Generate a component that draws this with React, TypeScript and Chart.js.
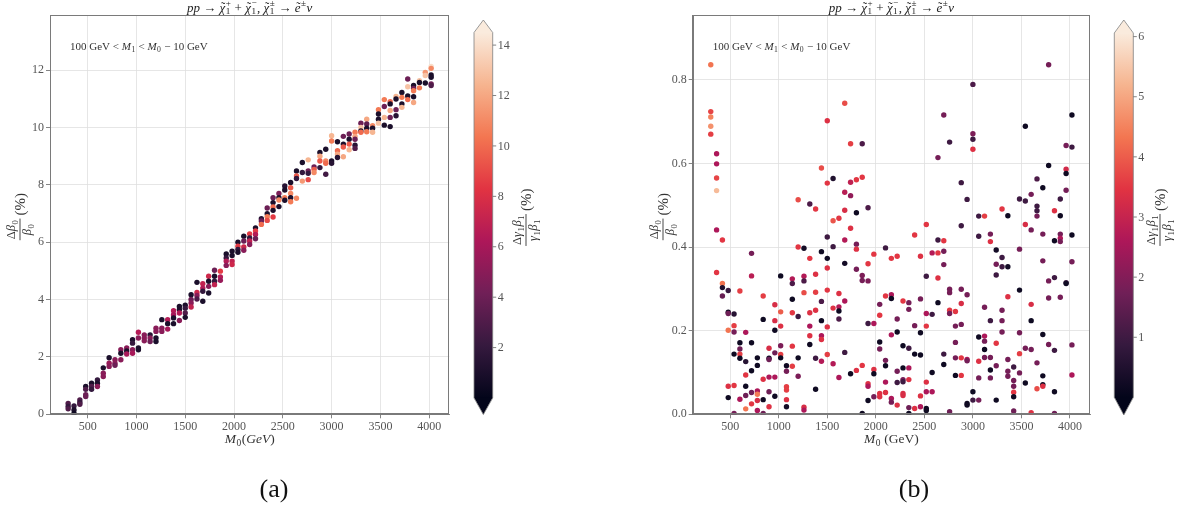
import React, { useEffect, useRef } from 'react';
import { Chart, registerables } from 'chart.js';

Chart.register(...registerables);

// ---------- data ----------
const massGrid = [300, 360, 420, 480, 540, 600, 660, 720, 780, 840, 900, 960, 1020, 1080, 1140, 1200, 1260, 1320, 1380, 1440, 1500, 1560, 1620, 1680, 1740, 1800, 1860, 1920, 1980, 2040, 2100, 2160, 2220, 2280, 2340, 2400, 2460, 2520, 2580, 2640, 2700, 2760, 2820, 2880, 2940, 3000, 3060, 3120, 3180, 3240, 3300, 3360, 3420, 3480, 3540, 3600, 3660, 3720, 3780, 3840, 3900, 3960, 4020];

const xTicks = [500, 1000, 1500, 2000, 2500, 3000, 3500, 4000];
const leftYTicks = [0, 2, 4, 6, 8, 10, 12];
const rightYTicks = [0, 0.2, 0.4, 0.6, 0.8];
const leftCbarTicks = [2, 4, 6, 8, 10, 12, 14];
const rightCbarTicks = [1, 2, 3, 4, 5, 6];

// (a) Δβ0/β0 (%) per mass column
const leftBeta: number[][] = [
  [0.38, 0.27, 0.19], [0.29, 0.15, 0.03], [0.5, 0.41, 0.35], [0.97, 0.87, 0.68, 0.62], [1.08, 0.97, 0.87],
  [1.2, 1.08, 0.97], [1.62, 1.43, 1.32], [1.97, 1.78, 1.67], [1.9, 1.78, 1.71], [2.25, 2.13, 1.9],
  [2.31, 2.21, 2.1], [2.6, 2.48, 2.25, 2.13], [2.86, 2.66, 2.31, 2.25], [2.77, 2.66, 2.56], [2.77, 2.66, 2.54],
  [3.0, 2.89, 2.66, 2.54], [3.3, 3.0, 2.89], [3.3, 3.16, 2.97], [3.61, 3.47, 3.36, 3.16], [3.76, 3.65, 3.53, 3.27],
  [3.8, 3.7, 3.53, 3.38], [4.17, 4.0, 3.88, 3.74], [4.6, 4.25, 4.14, 4.02], [4.55, 4.4, 4.29, 3.94], [4.81, 4.64, 4.46, 4.23],
  [5.02, 4.81, 4.64, 4.52], [4.99, 4.79, 4.67], [5.59, 5.45, 5.34, 5.19], [5.69, 5.54, 5.34, 5.22], [6.0, 5.86, 5.75, 5.65],
  [6.21, 6.04, 5.83, 5.72], [6.29, 6.15, 6.04, 5.92], [6.5, 6.39, 6.27, 6.12], [6.82, 6.74, 6.62], [7.19, 6.99, 6.89, 6.76],
  [7.55, 7.38, 7.23, 7.11, 6.88], [7.7, 7.55, 7.47, 7.24], [7.96, 7.82, 7.55, 7.46], [8.08, 7.9, 7.7, 7.55, 7.41], [8.48, 8.31, 8.22, 7.53],
  [8.78, 8.43, 8.13], [8.87, 8.48, 8.4, 8.18], [8.62, 8.54, 8.43], [9.13, 9.0, 8.83, 8.6], [9.24, 8.83, 8.75, 8.37],
  [9.71, 9.53, 8.83, 8.75], [9.5, 9.19, 9.07, 8.95], [9.69, 9.42, 9.32, 8.98], [9.77, 9.59, 9.42, 9.22], [9.83, 9.69, 9.59, 9.38, 9.27],
  [10.15, 10.0, 9.88, 9.83], [10.29, 10.12, 9.97, 9.85], [10.06, 9.97, 9.83], [10.62, 10.47, 10.29, 10.15], [10.97, 10.73, 10.35, 10.08],
  [10.9, 10.82, 10.59, 10.35, 10.03], [11.08, 10.99, 10.62, 10.41], [11.22, 11.05, 10.82, 10.7], [11.69, 11.42, 11.1, 10.97], [11.46, 11.36, 11.28, 11.07, 10.87],
  [11.63, 11.57, 11.38], [11.92, 11.81, 11.55], [12.13, 12.06, 11.83, 11.75, 11.52, 11.46],
];
// (a) Δγ1β1/γ1β1 (%) colour values
const leftGamma: number[][] = [
  [3, 2, 3], [2, 1, 0.5], [3, 2, 3], [1, 3, 4, 4], [1, 3, 2],
  [2, 1, 5], [1, 5, 5], [1, 5.5, 5], [5, 5, 4], [5, 1, 5],
  [5, 1, 6], [1, 2, 5, 6], [6.5, 5, 1, 1], [5, 5, 5], [1.5, 5, 4],
  [5, 5, 1, 1], [1, 5, 5], [6.5, 1, 6], [6.5, 6, 1, 1], [1, 1, 6.5, 5],
  [1, 2, 3, 1], [1, 4, 5, 7], [1, 7.5, 5, 3], [7, 6.5, 2, 1], [7.5, 1, 5, 1],
  [4, 1, 2, 7], [8.5, 6.5, 5.5], [1, 2, 6.5, 5], [1, 1, 7, 7.5], [1, 8.5, 2, 1],
  [1, 4, 7.5, 5], [8.5, 2, 7, 5], [1, 8.5, 6.5, 4], [1.5, 4, 10], [4, 1, 10.5, 9],
  [4, 1, 10, 1, 8.5], [4.5, 1, 11, 1], [1.5, 1, 10.5, 1], [1, 9.5, 11, 1, 10.5], [1, 9.5, 2, 11],
  [1, 2, 11.5], [12.5, 4, 2, 9], [4, 9.5, 11], [1, 12, 9.5, 2], [1, 11, 10, 2.5],
  [12.5, 10.5, 1, 1.5], [1, 10, 12, 1.5], [4, 1, 9.5, 12], [4, 1, 9.5, 12.5], [10.5, 12, 4, 1.5, 3],
  [4, 13, 1, 10], [12, 3.5, 1, 10.5], [11, 1, 12.5], [10.5, 1, 1, 13], [10.5, 4, 12.5, 1],
  [10, 1, 12, 4, 1], [12.5, 1, 4, 1.5], [1, 10.5, 1, 12.5], [4, 13, 1, 10], [1, 4, 10.5, 1, 12],
  [13, 1, 10.5], [11.5, 13, 1], [14, 11, 1, 1, 4, 3],
];

// (b) Δβ0/β0 (%) per mass column
const rightBeta: number[][] = [
  [0.836, 0.724, 0.711, 0.689, 0.67], [0.623, 0.599, 0.565, 0.535, 0.441, 0.339], [0.417, 0.313, 0.303, 0.283], [0.296, 0.244, 0.241, 0.201, 0.067, 0.04], [0.24, 0.212, 0.197, 0.144, 0.069, 0.002],
  [0.295, 0.171, 0.156, 0.144, 0.134, 0.036], [0.196, 0.126, 0.094, 0.067, 0.045, 0.013], [0.385, 0.331, 0.171, 0.104, 0.052, 0.025], [0.135, 0.117, 0.056, 0.048, 0.033, 0.009], [0.283, 0.227, 0.084, 0.035, 0.002],
  [0.158, 0.134, 0.131, 0.089, 0.054, 0.018], [0.262, 0.224, 0.201, 0.147, 0.089, 0.043], [0.331, 0.245, 0.211, 0.164, 0.143, 0.135], [0.116, 0.103, 0.066, 0.058, 0.035, 0.018], [0.324, 0.313, 0.275, 0.243, 0.163, 0.115],
  [0.513, 0.4, 0.234, 0.135, 0.091], [0.397, 0.33, 0.319, 0.291, 0.017, 0.01], [0.503, 0.373, 0.243, 0.211, 0.188, 0.167], [0.491, 0.335, 0.292, 0.249, 0.134, 0.06], [0.589, 0.389, 0.27, 0.224, 0.188, 0.179, 0.127],
  [0.702, 0.553, 0.424, 0.373, 0.35, 0.297, 0.209, 0.143], [0.564, 0.463, 0.401, 0.254, 0.121], [0.469, 0.289, 0.257, 0.247, 0.228, 0.088], [0.744, 0.531, 0.488, 0.417, 0.361, 0.271, 0.148], [0.647, 0.555, 0.523, 0.445, 0.097],
  [0.561, 0.482, 0.407, 0.395, 0.347, 0.105], [0.647, 0.567, 0.332, 0.32, 0.117, 0.002], [0.494, 0.36, 0.319, 0.217, 0.073, 0.067, 0.033], [0.383, 0.217, 0.107, 0.097, 0.042], [0.263, 0.237, 0.173, 0.156, 0.05, 0.042],
  [0.398, 0.283, 0.129, 0.116, 0.077, 0.052], [0.373, 0.286, 0.277, 0.19, 0.038, 0.029], [0.378, 0.228, 0.197, 0.103, 0.076, 0.022], [0.271, 0.164, 0.111, 0.083, 0.078, 0.05, 0.045], [0.267, 0.251, 0.158, 0.111, 0.083, 0.016, 0.002],
  [0.429, 0.212, 0.144, 0.014], [0.378, 0.276, 0.195, 0.142, 0.044, 0.018], [0.454, 0.33, 0.241, 0.211, 0.077, 0.054, 0.014, 0.009], [0.386, 0.239, 0.1, 0.054], [0.614, 0.417, 0.386, 0.326, 0.267],
  [0.716, 0.415, 0.39, 0.358, 0.144, 0.119], [0.651, 0.299, 0.291, 0.249, 0.241, 0.006], [0.246, 0.211, 0.172, 0.135, 0.093], [0.554, 0.451, 0.299, 0.265, 0.215, 0.135, 0.093], [0.514, 0.286, 0.131, 0.128, 0.026, 0.022],
  [0.789, 0.671, 0.658, 0.634, 0.054, 0.034], [0.474, 0.426, 0.185, 0.127, 0.087, 0.034], [0.474, 0.256, 0.187, 0.175, 0.155, 0.136], [0.431, 0.413, 0.224, 0.136, 0.106, 0.087], [0.393, 0.359, 0.333, 0.17, 0.116, 0.034],
  [0.491, 0.375, 0.353, 0.249, 0.224, 0.197], [0.475, 0.353, 0.281, 0.131, 0.103, 0.091], [0.113, 0.081, 0.067, 0.053, 0.042, 0.008], [0.515, 0.395, 0.297, 0.195, 0.145, 0.099], [0.689, 0.51, 0.454, 0.158, 0.075],
  [0.526, 0.441, 0.263, 0.224, 0.155, 0.004], [0.563, 0.498, 0.487, 0.474, 0.123, 0.061], [0.542, 0.431, 0.367, 0.191, 0.092, 0.071, 0.067], [0.836, 0.595, 0.319, 0.278, 0.167], [0.487, 0.415, 0.327, 0.153, 0.054, 0.002],
  [0.515, 0.475, 0.431, 0.421, 0.413, 0.28], [0.643, 0.586, 0.576, 0.536, 0.315, 0.313], [0.716, 0.639, 0.429, 0.365, 0.166, 0.094],
];
// (b) Δγ1β1/γ1β1 (%) colour values
const rightGamma: number[][] = [
  [4.3, 3.7, 4.5, 4.7, 3.6], [2.6, 2.6, 3.7, 5.3, 2.6, 3.5], [3.5, 4.3, 0.5, 1.6], [0.9, 0.2, 1.7, 4.3, 3.4, 0.2], [0.6, 3.6, 1.8, 0.2, 3.5, 1.8],
  [3.6, 0.2, 1.7, 3.6, 0.2, 2.6], [2.6, 0.6, 3.5, 0.2, 1.7, 4.3], [1.8, 2.8, 0.2, 0.2, 1.7, 3.5], [0.2, 0.2, 2.6, 4.4, 3.3, 2.6], [3.6, 0.2, 3.4, 0.2, 1.7],
  [3.3, 0.3, 1.7, 2.6, 1.7, 3.4], [3.3, 3.3, 0.2, 1.7, 2.6, 0.2], [0.2, 4.0, 3.4, 1.9, 3.6, 0.2], [0.2, 1.8, 3.6, 3.6, 3.4, 0.3], [2.7, 1.2, 0.2, 3.5, 3.5, 3.6],
  [3.8, 3.5, 1.0, 0.2, 1.9], [0.3, 2.7, 1.2, 3.8, 3.3, 2.6], [1.2, 3.5, 3.4, 2.6, 3.4, 0.2], [3.5, 3.4, 3.6, 3.4, 1.0, 0.2], [3.8, 0.2, 1.2, 0.2, 2.6, 3.4, 2.7],
  [3.4, 3.5, 1.0, 0.2, 3.4, 3.5, 3.4, 3.6], [0.5, 3.9, 1.0, 3.4, 2.7], [3.5, 3.4, 2.7, 0.2, 1.2, 2.6], [3.8, 2.8, 3.3, 2.7, 0.3, 2.6, 1.0], [3.6, 2.9, 2.2, 3.4, 0.2],
  [3.5, 0.2, 1.8, 3.4, 1.8, 3.4], [1.2, 3.5, 1.9, 1.8, 3.5, 0.2], [1.2, 3.5, 1.9, 1.0, 3.4, 2.6, 0.2], [3.5, 2.6, 3.4, 0.2, 1.8], [1.8, 3.5, 0.2, 1.8, 3.4, 3.4],
  [1.0, 3.5, 1.8, 0.2, 2.6, 3.4], [3.5, 2.6, 0.2, 2.6, 2.6, 1.8], [3.5, 1.8, 0.2, 1.8, 1.0, 3.4], [3.5, 0.2, 0.2, 1.8, 1.0, 3.3, 3.3], [1.8, 1.8, 1.0, 2.6, 3.4, 1.7, 0.2],
  [3.5, 1.8, 0.2, 3.4], [3.4, 1.8, 0.2, 0.2, 3.4, 2.6], [3.5, 1.0, 2.6, 3.5, 3.4, 2.6, 0.2, 0.2], [2.7, 1.0, 0.2, 2.6], [1.8, 1.0, 3.5, 3.4, 0.2],
  [1.8, 3.5, 1.8, 1.8, 1.0, 0.2], [1.0, 1.8, 1.8, 3.5, 1.8, 1.7], [3.5, 1.8, 1.8, 1.8, 0.2], [1.0, 1.0, 1.8, 3.3, 1.8, 3.5, 3.5], [1.0, 1.8, 2.6, 1.8, 0.2, 0.2],
  [1.2, 1.9, 1.0, 3.4, 0.2, 1.0], [1.0, 1.0, 0.2, 3.4, 1.8, 1.8], [3.6, 1.8, 2.6, 1.8, 0.2, 1.8], [1.8, 3.4, 1.0, 1.8, 0.2, 1.8], [0.3, 1.8, 1.0, 3.5, 1.8, 0.2],
  [3.5, 1.0, 1.0, 1.8, 1.8, 1.8], [0.2, 0.3, 3.4, 1.8, 1.8, 1.8], [1.0, 1.8, 1.8, 3.5, 0.2, 1.7], [1.0, 1.8, 0.2, 1.8, 3.6, 1.8], [0.2, 1.0, 3.3, 1.8, 0.2],
  [1.8, 1.8, 3.3, 0.2, 1.8, 3.4], [1.2, 1.0, 1.0, 1.8, 1.8, 3.8], [0.2, 1.8, 1.8, 0.2, 0.2, 0.2, 3.4], [1.8, 0.2, 1.8, 1.8, 1.8], [3.4, 0.2, 1.0, 1.0, 0.2, 1.7],
  [1.0, 0.2, 1.8, 2.6, 1.8, 1.8], [1.8, 3.2, 0.2, 1.8, 1.0, 0.2], [0.2, 1.0, 0.2, 1.8, 1.8, 2.6],
];

// ---------- colour map (seaborn "rocket") ----------
const ROCKET = ['#03051a', '#35193e', '#701f57', '#ad1759', '#e13342', '#f37651', '#f6b48f', '#faebdd'];
function hexRgb(h: string) {
  return [parseInt(h.slice(1, 3), 16), parseInt(h.slice(3, 5), 16), parseInt(h.slice(5, 7), 16)];
}
function rocket(t: number) {
  const tt = Math.max(0, Math.min(1, t));
  const n = ROCKET.length - 1;
  const p = tt * n;
  const i = Math.min(n - 1, Math.floor(p));
  const f = p - i;
  const a = hexRgb(ROCKET[i]);
  const b = hexRgb(ROCKET[i + 1]);
  const c = a.map((v, k) => Math.round(v + (b[k] - v) * f));
  return `rgb(${c[0]},${c[1]},${c[2]})`;
}

// ---------- rich text helpers ----------
type Part = { t: string; it?: boolean; sub?: string; sup?: string; tilde?: boolean };
const SERIF = '"Liberation Serif", "DejaVu Serif", serif';
const fnt = (size: number, it?: boolean) => `${it ? 'italic ' : ''}${size}px ${SERIF}`;

function partW(ctx: CanvasRenderingContext2D, p: Part, size: number) {
  ctx.font = fnt(size, p.it);
  const w = ctx.measureText(p.t).width;
  ctx.font = fnt(size * 0.7);
  let s = 0;
  if (p.sub) s = Math.max(s, ctx.measureText(p.sub).width);
  if (p.sup) s = Math.max(s, ctx.measureText(p.sup).width);
  return { w, s: s ? s + 1 : 0 };
}
function richW(ctx: CanvasRenderingContext2D, parts: Part[], size: number) {
  return parts.reduce((acc, p) => {
    const m = partW(ctx, p, size);
    return acc + m.w + m.s;
  }, 0);
}
function drawRich(ctx: CanvasRenderingContext2D, parts: Part[], x: number, y: number, size: number, align: 'left' | 'center' = 'left') {
  let cx = align === 'center' ? x - richW(ctx, parts, size) / 2 : x;
  ctx.textAlign = 'left';
  ctx.textBaseline = 'alphabetic';
  for (const p of parts) {
    const m = partW(ctx, p, size);
    ctx.font = fnt(size, p.it);
    ctx.fillText(p.t, cx, y);
    if (p.tilde) {
      ctx.font = fnt(size);
      const tw = ctx.measureText('˜').width;
      ctx.fillText('˜', cx + m.w / 2 - tw / 2 + size * 0.06, y - size * 0.05);
    }
    cx += m.w;
    ctx.font = fnt(size * 0.7);
    if (p.sub) ctx.fillText(p.sub, cx + 0.5, y + size * 0.22);
    if (p.sup) ctx.fillText(p.sup, cx + 0.5, y - size * 0.42);
    cx += m.s;
  }
}
function drawFrac(ctx: CanvasRenderingContext2D, cx: number, cy: number, num: Part[], den: Part[], suf: Part[], fs: number, sfs: number, color: string) {
  ctx.save();
  ctx.translate(cx, cy);
  ctx.rotate(-Math.PI / 2);
  ctx.fillStyle = color;
  const nw = richW(ctx, num, fs);
  const dw = richW(ctx, den, fs);
  const fw = Math.max(nw, dw) + 2;
  const sw = richW(ctx, suf, sfs);
  const gap = 3;
  const x0 = -(fw + gap + sw) / 2;
  drawRich(ctx, num, x0 + fw / 2, -2.5 - fs * 0.2, fs, 'center');
  ctx.fillRect(x0, -0.45, fw, 0.9);
  drawRich(ctx, den, x0 + fw / 2, 2.5 + fs * 0.7, fs, 'center');
  drawRich(ctx, suf, x0 + fw + gap, sfs * 0.33, sfs, 'left');
  ctx.restore();
}

const titleParts: Part[] = [
  { t: 'pp', it: true }, { t: ' → ' },
  { t: 'χ', it: true, tilde: true, sub: '1', sup: '+' }, { t: ' + ' },
  { t: 'χ', it: true, tilde: true, sub: '1', sup: '−' }, { t: ', ' },
  { t: 'χ', it: true, tilde: true, sub: '1', sup: '±' }, { t: ' → ' },
  { t: 'e', it: true, tilde: true, sup: '±' }, { t: 'ν', it: true },
];
const noteParts: Part[] = [
  { t: '100 GeV < ' }, { t: 'M', it: true, sub: '1' }, { t: ' < ' }, { t: 'M', it: true, sub: '0' }, { t: ' − 10 GeV' },
];
const yNum: Part[] = [{ t: 'Δ' }, { t: 'β', it: true, sub: '0' }];
const yDen: Part[] = [{ t: 'β', it: true, sub: '0' }];
const cNum: Part[] = [{ t: 'Δ' }, { t: 'γ', it: true, sub: '1' }, { t: 'β', it: true, sub: '1' }];
const cDen: Part[] = [{ t: 'γ', it: true, sub: '1' }, { t: 'β', it: true, sub: '1' }];
const pct: Part[] = [{ t: '(%)' }];

type PanelCfg = {
  offset: number;
  ys: number[][];
  cs: number[][];
  vmax: number;
  yMax: number;
  yTicks: number[];
  yFmt: (v: number) => string;
  yWidth: number;
  padRight: number;
  xLabel: Part[];
  caption: string;
  captionX: number;
  yLabelX: number;
  cbar: { x0: number; x1: number; tipTop: number; top: number; bot: number; tipBot: number; ticks: number[]; labelX: number };
};

const panels: PanelCfg[] = [
  {
    offset: 0, ys: leftBeta, cs: leftGamma, vmax: 14.5, yMax: 13.92, yTicks: leftYTicks,
    yFmt: (v) => String(v), yWidth: 50, padRight: 140.7,
    xLabel: [{ t: 'M', it: true, sub: '0' }, { t: '(' }, { t: 'GeV', it: true }, { t: ')' }],
    caption: '(a)', captionX: 274, yLabelX: 20,
    cbar: { x0: 474, x1: 492.7, tipTop: 20, top: 32.5, bot: 398, tipBot: 414.5, ticks: leftCbarTicks, labelX: 526 },
  },
  {
    offset: 590, ys: rightBeta, cs: rightGamma, vmax: 6.06, yMax: 0.955, yTicks: rightYTicks,
    yFmt: (v) => v.toFixed(1), yWidth: 102.7, padRight: 90,
    xLabel: [{ t: 'M', it: true, sub: '0' }, { t: ' (GeV)' }],
    caption: '(b)', captionX: 324, yLabelX: 73,
    cbar: { x0: 524.3, x1: 543.3, tipTop: 20, top: 33, bot: 397.4, tipBot: 415, ticks: rightCbarTicks, labelX: 570 },
  },
];

function buildConfig(cfg: PanelCfg): any {
  const points: { x: number; y: number }[] = [];
  const colors: string[] = [];
  massGrid.forEach((m, i) => {
    cfg.ys[i].forEach((y, j) => {
      points.push({ x: m, y });
      colors.push(rocket(cfg.cs[i][j] / cfg.vmax));
    });
  });

  const decor = {
    id: 'decor',
    afterDraw(chart: any) {
      const ctx: CanvasRenderingContext2D = chart.ctx;
      const a = chart.chartArea;
      const midX = (a.left + a.right) / 2;
      ctx.save();
      // frame
      ctx.strokeStyle = '#7a7a7a';
      ctx.lineWidth = 1;
      ctx.strokeRect(Math.round(a.left) + 0.5, Math.round(a.top) + 0.5, Math.round(a.right - a.left) - 1, Math.round(a.bottom - a.top) - 1);
      // title
      ctx.fillStyle = '#222';
      drawRich(ctx, titleParts, midX, 11.5, 13, 'center');
      // annotation
      ctx.fillStyle = '#333';
      drawRich(ctx, noteParts, a.left + 20, 49.5, 11, 'left');
      // x label
      drawRich(ctx, cfg.xLabel, midX, 443, 13.5, 'center');
      // y label
      drawFrac(ctx, cfg.yLabelX, (a.top + a.bottom) / 2 + 2, yNum, yDen, pct, 12.5, 15, '#333');
      // caption
      ctx.fillStyle = '#111';
      ctx.font = fnt(26);
      ctx.textAlign = 'center';
      ctx.textBaseline = 'alphabetic';
      ctx.fillText(cfg.caption, cfg.captionX, 497);
      // colour bar
      const cb = cfg.cbar;
      const mid = (cb.x0 + cb.x1) / 2;
      const grad = ctx.createLinearGradient(0, cb.bot, 0, cb.top);
      ROCKET.forEach((c, i) => grad.addColorStop(i / (ROCKET.length - 1), c));
      ctx.fillStyle = grad;
      ctx.fillRect(cb.x0, cb.top, cb.x1 - cb.x0, cb.bot - cb.top);
      ctx.fillStyle = ROCKET[ROCKET.length - 1];
      ctx.beginPath();
      ctx.moveTo(cb.x0, cb.top + 0.5); ctx.lineTo(mid, cb.tipTop); ctx.lineTo(cb.x1, cb.top + 0.5); ctx.closePath();
      ctx.fill();
      ctx.fillStyle = ROCKET[0];
      ctx.beginPath();
      ctx.moveTo(cb.x0, cb.bot - 0.5); ctx.lineTo(mid, cb.tipBot); ctx.lineTo(cb.x1, cb.bot - 0.5); ctx.closePath();
      ctx.fill();
      ctx.strokeStyle = '#808080';
      ctx.lineWidth = 0.8;
      ctx.beginPath();
      ctx.moveTo(cb.x0, cb.top); ctx.lineTo(mid, cb.tipTop); ctx.lineTo(cb.x1, cb.top);
      ctx.lineTo(cb.x1, cb.bot); ctx.lineTo(mid, cb.tipBot); ctx.lineTo(cb.x0, cb.bot); ctx.closePath();
      ctx.stroke();
      ctx.fillStyle = '#555';
      ctx.strokeStyle = '#666';
      ctx.font = fnt(12);
      ctx.textAlign = 'left';
      ctx.textBaseline = 'middle';
      cb.ticks.forEach((t) => {
        const y = cb.bot - (t / cfg.vmax) * (cb.bot - cb.top);
        ctx.beginPath();
        ctx.moveTo(cb.x1, y); ctx.lineTo(cb.x1 + 3.5, y);
        ctx.stroke();
        ctx.fillText(String(t), cb.x1 + 5, y + 0.5);
      });
      drawFrac(ctx, cb.labelX, (cb.top + cb.bot) / 2 + 2, cNum, cDen, pct, 12.5, 15, '#333');
      ctx.restore();
    },
  };

  const tickFont = { family: 'Liberation Serif', size: 12 };
  return {
    type: 'scatter',
    data: {
      datasets: [
        {
          data: points,
          pointBackgroundColor: colors,
          pointBorderWidth: 0,
          pointRadius: 2.7,
          pointHoverRadius: 2.7,
        },
      ],
    },
    options: {
      responsive: false,
      animation: false,
      devicePixelRatio: 1,
      events: [],
      layout: { autoPadding: false, padding: { left: 0, right: cfg.padRight, top: 15, bottom: 0 } },
      plugins: { legend: { display: false }, tooltip: { enabled: false }, title: { display: false } },
      scales: {
        x: {
          type: 'linear',
          min: 114,
          max: 4206,
          afterBuildTicks: (s: any) => { s.ticks = xTicks.map((v) => ({ value: v })); },
          afterFit: (s: any) => { s.height = 97.7; },
          ticks: { color: '#555', font: tickFont, padding: 1, autoSkip: false, maxRotation: 0, callback: (v: any) => String(v) },
          grid: { color: '#e0e0e0', lineWidth: 0.8, tickColor: '#666', tickLength: 4, drawTicks: true },
          border: { display: true, color: '#7a7a7a', width: 1 },
        },
        y: {
          type: 'linear',
          min: 0,
          max: cfg.yMax,
          afterBuildTicks: (s: any) => { s.ticks = cfg.yTicks.map((v) => ({ value: v })); },
          afterFit: (s: any) => { s.width = cfg.yWidth; },
          ticks: { color: '#555', font: tickFont, padding: 2, autoSkip: false, callback: (v: any) => cfg.yFmt(Number(v)) },
          grid: { color: '#e0e0e0', lineWidth: 0.8, tickColor: '#666', tickLength: 4, drawTicks: true },
          border: { display: true, color: '#7a7a7a', width: 1 },
        },
      },
    },
    plugins: [decor],
  };
}

function Panel({ cfg }: { cfg: PanelCfg }) {
  const ref = useRef<HTMLCanvasElement>(null);
  useEffect(() => {
    const chart = new Chart(ref.current as HTMLCanvasElement, buildConfig(cfg));
    return () => chart.destroy();
  }, [cfg]);
  return (
    <canvas
      ref={ref}
      width={590}
      height={512}
      style={{ position: 'absolute', left: cfg.offset, top: 0, width: 590, height: 512 }}
    />
  );
}

export default function App() {
  return (
    <div style={{ position: 'fixed', left: 0, top: 0, width: 1180, height: 512, background: '#fff', overflow: 'hidden' }}>
      {panels.map((p) => (
        <Panel key={p.caption} cfg={p} />
      ))}
    </div>
  );
}
